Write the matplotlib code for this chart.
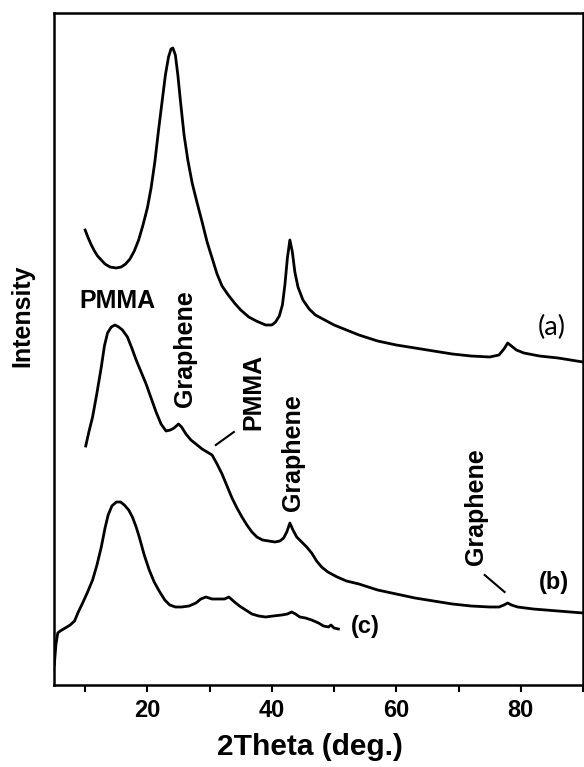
import matplotlib
matplotlib.use("Agg")
import matplotlib.pyplot as plt

plt.rcParams['font.family'] = ['Liberation Sans', 'DejaVu Sans']
plt.rcParams['font.weight'] = 'bold'

# XRD patterns, 2theta in degrees vs. intensity (arb. units, offset per curve)
theta_a = [10.0, 10.5, 11.0, 11.5, 12.0, 12.6, 13.2, 14.0, 15.0, 15.8, 16.5, 17.2,
           17.9, 18.6, 19.3, 20.0, 20.6, 21.2, 21.8, 22.4, 22.9, 23.4, 23.8, 24.1,
           24.5, 24.9, 25.3, 25.9, 26.5, 27.2, 28.0, 28.8, 29.6, 30.4, 31.2, 32.0,
           33.0, 34.0, 35.0, 36.3, 37.5, 39.0, 40.0, 40.6, 41.2, 41.7, 42.1, 42.5,
           42.9, 43.3, 43.7, 44.2, 45.0, 46.0, 47.0, 48.5, 50.0, 52.0, 54.0, 57.0,
           60.0, 63.0, 66.0, 69.0, 72.0, 75.0, 76.5, 77.3, 77.9, 78.5, 79.3, 80.5,
           83.0, 86.0, 90.0]
inten_a = [455, 447, 440, 434, 429, 425, 421, 418, 417, 418, 421, 426,
           434, 445, 460, 477, 497, 523, 555, 585, 610, 628, 636, 637,
           630, 610, 585, 550, 525, 502, 482, 463, 443, 427, 411, 399,
           390, 382, 375, 368, 364, 360, 360, 363, 369, 380, 400, 427,
           445, 433, 413, 398, 385, 376, 370, 365, 360, 355, 350, 344,
           340, 337, 334, 331, 329, 328, 330, 336, 342, 339, 335, 332,
           329, 327, 323]

theta_b = [10.1, 10.6, 11.2, 11.9, 12.6, 13.1, 13.6, 14.2, 14.8, 15.4, 16.0, 16.8,
           17.5, 18.2, 19.0, 19.8, 20.6, 21.4, 22.2, 23.0, 23.7, 24.3, 25.0, 25.5,
           26.2, 27.0, 28.0, 28.8, 29.6, 30.4, 31.2, 32.0, 32.8, 33.6, 34.4, 35.2,
           36.0, 36.8, 37.6, 38.5, 39.5, 40.5, 41.3, 41.9, 42.4, 42.9, 43.4, 44.0,
           44.8, 45.6, 46.4, 47.2, 48.0, 49.0, 50.5, 52.0, 54.0, 57.0, 60.0, 63.0,
           66.0, 69.0, 72.0, 75.0, 76.5, 77.3, 77.9, 78.5, 79.5, 82.0, 86.0, 90.0]
inten_b = [239, 253, 268, 292, 318, 339, 352, 358, 360, 358, 355, 348,
           337, 325, 313, 301, 287, 273, 261, 254, 255, 257, 261, 258,
           251, 245, 240, 236, 233, 230, 221, 211, 199, 187, 177, 168,
           160, 153, 148, 145, 144, 143, 144, 147, 153, 162, 155, 148,
           143, 138, 132, 124, 118, 113, 108, 104, 101, 95, 91, 87,
           84, 81, 79, 78, 78, 80, 82, 80, 78, 76, 74, 72]

theta_c = [5.05, 5.3, 5.6, 6.0, 6.8, 7.6, 8.3, 8.9, 9.6, 10.4, 11.2, 11.9,
           12.6, 13.2, 13.7, 14.3, 15.0, 15.7, 16.3, 17.0, 17.6, 18.2, 18.7, 19.5,
           20.3, 21.1, 21.9, 22.8, 23.6, 24.5, 25.5, 26.7, 27.8, 28.6, 29.4, 30.4,
           31.5, 32.4, 33.1, 34.0, 34.8, 35.8, 36.8, 37.9, 39.0, 40.2, 41.6, 42.5,
           43.2, 43.8, 44.5, 45.4, 46.4, 47.5, 48.3, 49.1, 49.5, 50.0, 50.7]
inten_c = [20, 40, 52, 54, 57, 60, 64, 73, 82, 93, 105, 120,
           138, 157, 170, 179, 183, 183, 180, 175, 168, 158, 148, 130,
           115, 103, 94, 85, 80, 78, 78, 79, 82, 86, 88, 86,
           86, 86, 88, 83, 79, 75, 71, 69, 68, 69, 70, 71,
           73, 71, 68, 67, 65, 62, 59, 58, 60, 57, 56]

fig = plt.figure(figsize=(5.84, 7.67), dpi=100)
ax = fig.add_axes([54 / 584, 82 / 767, 529 / 584, 672 / 767])

for th, y in [(theta_a, inten_a), (theta_b, inten_b), (theta_c, inten_c)]:
    ax.plot(th, y, color='black', lw=2.0, solid_joinstyle='round')

ax.set_xlim(5, 90)
ax.set_ylim(0, 672)
ax.set_xticks([20, 40, 60, 80])
ax.set_xticks([10, 30, 50, 70, 90], minor=True)
ax.set_yticks([])
ax.tick_params(axis='x', which='both', direction='out', length=5, width=1.5,
               labelsize=17, pad=5)
for sp in ax.spines.values():
    sp.set_linewidth(1.8)

ax.set_xlabel('2Theta (deg.)', fontsize=21.5, fontweight='bold')
ax.xaxis.set_label_coords(0.483, -0.072)
ax.set_ylabel('Intensity', fontsize=18, fontweight='bold')
ax.yaxis.set_label_coords(-0.038, 0.55)

# peak assignments
ax.text(15.2, 384, 'PMMA', fontsize=18, ha='center', va='center')
ax.text(26.1, 336, 'Graphene', fontsize=18, rotation=90, ha='center', va='center')
ax.text(37.1, 293, 'PMMA', fontsize=18, rotation=90, ha='center', va='center')
ax.text(43.4, 232, 'Graphene', fontsize=18, rotation=90, ha='center', va='center')
ax.text(72.8, 178, 'Graphene', fontsize=18, rotation=90, ha='center', va='center')
ax.plot([31.0, 33.9], [240, 253], color='black', lw=1.5)
ax.plot([74.2, 77.4], [110, 93], color='black', lw=1.5)

ax.text(85.0, 358, '(a)', fontsize=19.5, fontweight='normal', family=['Lato', 'DejaVu Sans'],
        ha='center', va='center')
ax.text(85.3, 103, '(b)', fontsize=17, ha='center', va='center')
ax.text(55.0, 58, '(c)', fontsize=17, ha='center', va='center')

fig.savefig('out.png', dpi=100)
